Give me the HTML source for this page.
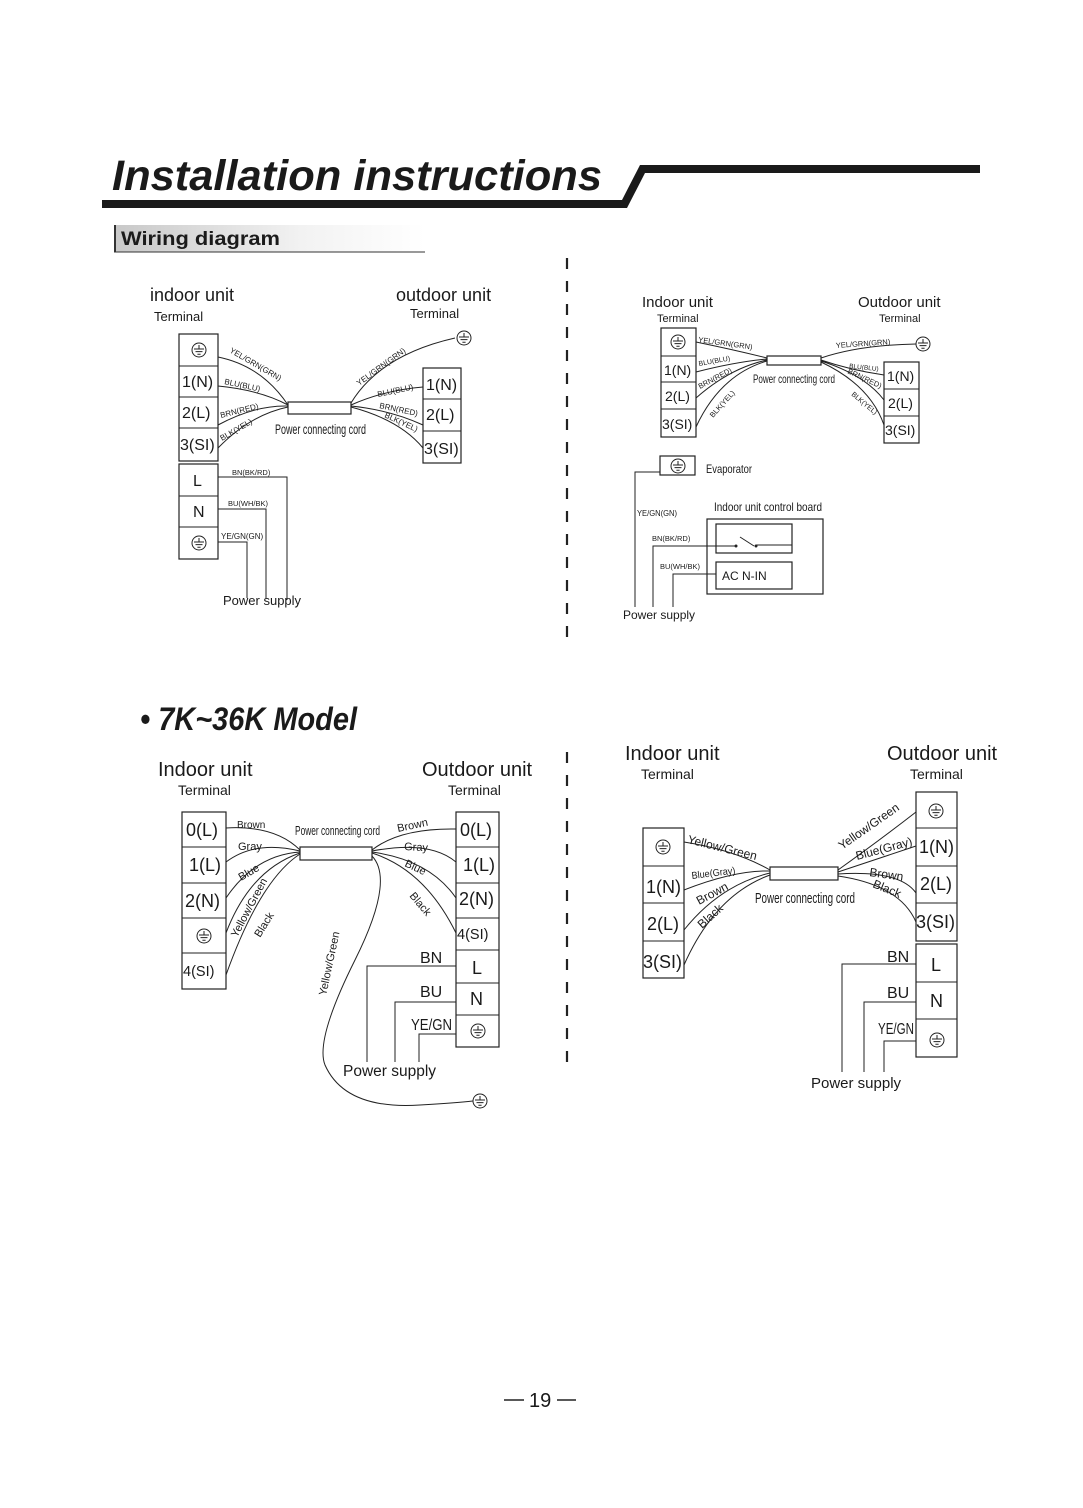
<!DOCTYPE html>
<html><head><meta charset="utf-8"><style>
html,body{margin:0;padding:0;background:#fff;}
svg{display:block;}
text{font-family:"Liberation Sans",sans-serif;fill:#1a1a1a;}
.w{fill:none;stroke:#222;stroke-width:1;}
.b{fill:#fff;stroke:#222;stroke-width:1.2;}
</style></head><body>
<svg width="1083" height="1508" viewBox="0 0 1083 1508" xmlns="http://www.w3.org/2000/svg">
<defs>
<g id="gnd"><circle r="7" fill="#fff" stroke="#222" stroke-width="1"/><path d="M0,-5V-1M-5,-1H5M-3.5,1.6H3.5M-1.6,4.2H1.6" stroke="#222" stroke-width="1" fill="none"/></g>
<linearGradient id="gr" x1="0" x2="1"><stop offset="0" stop-color="#c8c8c8"/><stop offset="0.6" stop-color="#f2f2f2"/><stop offset="1" stop-color="#fff"/></linearGradient>
</defs>

<!-- Header -->
<text x="112" y="190" font-size="43" font-weight="bold" font-style="italic" textLength="490" lengthAdjust="spacingAndGlyphs">Installation instructions</text>
<polygon points="102,200 622,200 640,165 980,165 980,173 645,173 627,208 102,208" fill="#1a1a1a"/>
<rect x="114" y="225" width="311" height="27" fill="url(#gr)"/>
<line x1="115" y1="225" x2="115" y2="252" stroke="#333" stroke-width="2"/>
<line x1="114" y1="252" x2="425" y2="252" stroke="#333" stroke-width="1"/>
<text x="121" y="245" font-size="19" font-weight="bold" textLength="159" lengthAdjust="spacingAndGlyphs">Wiring diagram</text>

<!-- dashed dividers -->
<line x1="567" y1="258" x2="567" y2="642" stroke="#222" stroke-width="2.2" stroke-dasharray="11,12"/>
<line x1="567" y1="752" x2="567" y2="1070" stroke="#222" stroke-width="2.2" stroke-dasharray="11,12"/>

<!-- ===== Diagram 1 ===== -->
<text x="150" y="301" font-size="18">indoor unit</text>
<text x="154" y="321" font-size="13">Terminal</text>
<text x="396" y="301" font-size="18">outdoor unit</text>
<text x="410" y="318" font-size="13">Terminal</text>
<rect class="b" x="179" y="334" width="39" height="127"/>
<path class="w" d="M179,366H218M179,397H218M179,428H218"/>
<use href="#gnd" x="199" y="350"/>
<text x="182" y="387" font-size="16">1(N)</text>
<text x="182" y="418" font-size="16">2(L)</text>
<text x="180" y="450" font-size="16">3(SI)</text>
<rect class="b" x="179" y="464" width="39" height="95"/>
<path class="w" d="M179,496H218M179,527H218"/>
<text x="193" y="486" font-size="16">L</text>
<text x="193" y="517" font-size="16">N</text>
<use href="#gnd" x="199" y="543"/>
<rect class="b" x="423" y="368" width="38" height="95"/>
<path class="w" d="M423,399H461M423,431H461"/>
<text x="426" y="390" font-size="16">1(N)</text>
<text x="426" y="420" font-size="16">2(L)</text>
<text x="424" y="454" font-size="16">3(SI)</text>
<use href="#gnd" x="464" y="338"/>
<rect class="b" x="288" y="402" width="63" height="12"/>
<text x="275" y="434" font-size="14" textLength="91" lengthAdjust="spacingAndGlyphs">Power connecting cord</text>
<path class="w" d="M218,357Q262,366 288,405M218,386Q260,390 288,405M218,425Q255,405 288,406M218,448Q250,415 288,407"/>
<path class="w" d="M351,403Q380,355 455,338M351,405Q385,390 423,387M351,406Q390,410 423,425M351,407Q400,420 423,448"/>
<text font-size="8" transform="translate(229,352) rotate(30)">YEL/GRN(GRN)</text>
<text font-size="8" transform="translate(224,384) rotate(12)">BLU(BLU)</text>
<text font-size="8" transform="translate(221,418) rotate(-14)">BRN(RED)</text>
<text font-size="8" transform="translate(222,441) rotate(-30)">BLK(YEL)</text>
<text font-size="8" transform="translate(359,386) rotate(-36)">YEL/GRN(GRN)</text>
<text font-size="8" transform="translate(378,397) rotate(-12)">BLU(BLU)</text>
<text font-size="8" transform="translate(379,408) rotate(12)">BRN(RED)</text>
<text font-size="8" transform="translate(384,417) rotate(25)">BLK(YEL)</text>
<path class="w" d="M218,477H287V600M218,509H266V598M218,542H247V598"/>
<text x="232" y="475" font-size="7.5">BN(BK/RD)</text>
<text x="228" y="506" font-size="7.5">BU(WH/BK)</text>
<text x="221" y="539" font-size="8">YE/GN(GN)</text>
<text x="223" y="605" font-size="13">Power supply</text>

<!-- ===== Diagram 2 ===== -->
<text x="642" y="307" font-size="15">Indoor unit</text>
<text x="657" y="322" font-size="11">Terminal</text>
<text x="858" y="307" font-size="15">Outdoor unit</text>
<text x="879" y="322" font-size="11">Terminal</text>
<rect class="b" x="661" y="328" width="35" height="109"/>
<path class="w" d="M661,356H696M661,382H696M661,409H696"/>
<use href="#gnd" x="678" y="342"/>
<text x="664" y="375" font-size="14">1(N)</text>
<text x="665" y="401" font-size="14">2(L)</text>
<text x="662" y="429" font-size="14">3(SI)</text>
<rect class="b" x="884" y="362" width="35" height="81"/>
<path class="w" d="M884,389H919M884,416H919"/>
<text x="887" y="381" font-size="14">1(N)</text>
<text x="888" y="408" font-size="14">2(L)</text>
<text x="885" y="435" font-size="14">3(SI)</text>
<use href="#gnd" x="923" y="344"/>
<rect class="b" x="767" y="356" width="54" height="9"/>
<text x="753" y="383" font-size="12" textLength="82" lengthAdjust="spacingAndGlyphs">Power connecting cord</text>
<path class="w" d="M696,342Q735,350 767,358M696,372Q735,362 767,359M696,398Q730,368 767,360M696,427Q720,375 767,361"/>
<path class="w" d="M821,358Q860,345 916,344M821,360Q850,370 884,375M821,361Q865,375 884,400M821,362Q870,385 884,425"/>
<text font-size="7.5" transform="translate(698,342) rotate(8)">YEL/GRN(GRN)</text>
<text font-size="7" transform="translate(699,366) rotate(-10)">BLU(BLU)</text>
<text font-size="7.5" transform="translate(700,389) rotate(-28)">BRN(RED)</text>
<text font-size="7.5" transform="translate(713,418) rotate(-48)">BLK(YEL)</text>
<text font-size="7.5" transform="translate(836,348) rotate(-4)">YEL/GRN(GRN)</text>
<text font-size="6.5" transform="translate(849,368) rotate(6)">BLU(BLU)</text>
<text font-size="7.5" transform="translate(847,373) rotate(25)">BRN(RED)</text>
<text font-size="7" transform="translate(851,395) rotate(40)">BLK(YEL)</text>
<rect class="b" x="660" y="456" width="35" height="19"/>
<use href="#gnd" x="678" y="466"/>
<text x="706" y="473" font-size="12" textLength="46" lengthAdjust="spacingAndGlyphs">Evaporator</text>
<path class="w" d="M660,472H635V607"/>
<text x="637" y="516" font-size="8" textLength="40" lengthAdjust="spacingAndGlyphs">YE/GN(GN)</text>
<text x="714" y="511" font-size="12" textLength="108" lengthAdjust="spacingAndGlyphs">Indoor unit control board</text>
<rect class="b" x="707" y="519" width="116" height="75"/>
<rect class="b" x="716" y="524" width="76" height="29"/>
<rect class="b" x="716" y="562" width="76" height="27"/>
<path class="w" d="M653,607V546H736M740,537L754,546M756,545H792M673,607V574H716"/>
<circle cx="736" cy="546" r="1.5" fill="#222"/><circle cx="756" cy="546" r="1.5" fill="#222"/>
<text x="652" y="541" font-size="7.5">BN(BK/RD)</text>
<text x="660" y="569" font-size="7.5">BU(WH/BK)</text>
<text x="722" y="580" font-size="12">AC N-IN</text>
<text x="623" y="619" font-size="12">Power supply</text>

<!-- Model heading -->
<text x="140" y="730" font-size="32" font-weight="bold" font-style="italic" textLength="217" lengthAdjust="spacingAndGlyphs">• 7K~36K Model</text>

<!-- ===== Diagram 3 ===== -->
<text x="158" y="776" font-size="20">Indoor unit</text>
<text x="178" y="795" font-size="14">Terminal</text>
<text x="422" y="776" font-size="20">Outdoor unit</text>
<text x="448" y="795" font-size="14">Terminal</text>
<rect class="b" x="182" y="812" width="44" height="177"/>
<path class="w" d="M182,847H226M182,883H226M182,918H226M182,953H226"/>
<text x="186" y="836" font-size="18">0(L)</text>
<text x="189" y="871" font-size="18">1(L)</text>
<text x="185" y="907" font-size="18">2(N)</text>
<use href="#gnd" x="204" y="936"/>
<text x="183" y="976" font-size="14.5">4(SI)</text>
<rect class="b" x="456" y="812" width="43" height="235"/>
<path class="w" d="M456,847H499M456,883H499M456,918H499M456,950H499M456,983H499M456,1015H499"/>
<text x="460" y="836" font-size="18">0(L)</text>
<text x="463" y="871" font-size="18">1(L)</text>
<text x="459" y="905" font-size="18">2(N)</text>
<text x="457" y="939" font-size="14.5">4(SI)</text>
<text x="472" y="974" font-size="18">L</text>
<text x="470" y="1005" font-size="18">N</text>
<use href="#gnd" x="478" y="1031"/>
<rect class="b" x="300" y="847" width="72" height="13"/>
<text x="295" y="835" font-size="13" textLength="85" lengthAdjust="spacingAndGlyphs">Power connecting cord</text>
<path class="w" d="M226,828Q275,825 300,850M226,862Q255,840 300,851M226,898Q255,855 300,852M226,933Q250,870 300,853M226,975Q260,880 300,854"/>
<path class="w" d="M372,850Q400,828 456,829M372,851Q430,840 456,862M372,852Q430,860 456,898M372,853Q425,870 456,933"/>
<path class="w" d="M372,856Q395,880 355,960Q315,1040 325,1065Q345,1110 420,1105Q455,1103 473,1101"/>
<use href="#gnd" x="480" y="1101"/>
<text x="237" y="828" font-size="10">Brown</text>
<text x="238" y="850" font-size="11">Gray</text>
<text font-size="11" transform="translate(241,881) rotate(-30)">Blue</text>
<text font-size="11" transform="translate(237,938) rotate(-62)">Yellow/Green</text>
<text font-size="11" transform="translate(260,938) rotate(-58)">Black</text>
<text font-size="11" transform="translate(398,832) rotate(-12)">Brown</text>
<text font-size="11" transform="translate(404,850) rotate(3)">Gray</text>
<text font-size="11" transform="translate(404,866) rotate(25)">Blue</text>
<text font-size="11" transform="translate(409,896) rotate(50)">Black</text>
<text font-size="11" transform="translate(326,996) rotate(-78)">Yellow/Green</text>
<path class="w" d="M456,966H367V1062M456,1002H395V1062M456,1034H419V1062"/>
<text x="420" y="963" font-size="16">BN</text>
<text x="420" y="997" font-size="16">BU</text>
<text x="411" y="1030" font-size="16" textLength="41" lengthAdjust="spacingAndGlyphs">YE/GN</text>
<text x="343" y="1076" font-size="15.5">Power supply</text>

<!-- ===== Diagram 4 ===== -->
<text x="625" y="760" font-size="20">Indoor unit</text>
<text x="641" y="779" font-size="14">Terminal</text>
<text x="887" y="760" font-size="20">Outdoor unit</text>
<text x="910" y="779" font-size="14">Terminal</text>
<rect class="b" x="643" y="828" width="41" height="150"/>
<path class="w" d="M643,866H684M643,903H684M643,941H684"/>
<use href="#gnd" x="663" y="847"/>
<text x="646" y="893" font-size="18">1(N)</text>
<text x="647" y="930" font-size="18">2(L)</text>
<text x="643" y="968" font-size="18">3(SI)</text>
<rect class="b" x="916" y="792" width="41" height="149"/>
<path class="w" d="M916,828H957M916,866H957M916,903H957"/>
<use href="#gnd" x="936" y="811"/>
<text x="919" y="853" font-size="18">1(N)</text>
<text x="920" y="890" font-size="18">2(L)</text>
<text x="916" y="928" font-size="18">3(SI)</text>
<rect class="b" x="916" y="944" width="41" height="113"/>
<path class="w" d="M916,982H957M916,1019H957"/>
<text x="931" y="971" font-size="18">L</text>
<text x="930" y="1007" font-size="18">N</text>
<use href="#gnd" x="937" y="1040"/>
<rect class="b" x="770" y="867" width="68" height="13"/>
<text x="755" y="903" font-size="15" textLength="100" lengthAdjust="spacingAndGlyphs">Power connecting cord</text>
<path class="w" d="M684,842Q735,850 770,870M684,890Q735,870 770,871M684,930Q720,885 770,873M684,965Q715,895 770,875"/>
<path class="w" d="M838,870Q880,840 916,812M838,872Q880,858 916,846M838,874Q900,870 916,893M838,876Q900,885 916,922"/>
<text font-size="12" transform="translate(687,843) rotate(14)">Yellow/Green</text>
<text font-size="10" transform="translate(692,879) rotate(-7)" textLength="44" lengthAdjust="spacingAndGlyphs">Blue(Gray)</text>
<text font-size="12" transform="translate(699,905) rotate(-28)">Brown</text>
<text font-size="12" transform="translate(702,929) rotate(-42)">Black</text>
<text font-size="12" transform="translate(842,850) rotate(-35)">Yellow/Green</text>
<text font-size="12" transform="translate(857,860) rotate(-15)">Blue(Gray)</text>
<text font-size="12" transform="translate(869,876) rotate(8)">Brown</text>
<text font-size="12" transform="translate(872,887) rotate(22)">Black</text>
<path class="w" d="M916,964H842V1072M916,1002H864V1072M916,1041H884V1072"/>
<text x="887" y="962" font-size="16">BN</text>
<text x="887" y="998" font-size="16">BU</text>
<text x="878" y="1034" font-size="16" textLength="36" lengthAdjust="spacingAndGlyphs">YE/GN</text>
<text x="811" y="1088" font-size="15">Power supply</text>

<!-- page number -->
<line x1="504" y1="1400" x2="524" y2="1400" stroke="#222" stroke-width="1.6"/>
<text x="529" y="1407" font-size="20">19</text>
<line x1="557" y1="1400" x2="576" y2="1400" stroke="#222" stroke-width="1.6"/>
</svg>
</body></html>
